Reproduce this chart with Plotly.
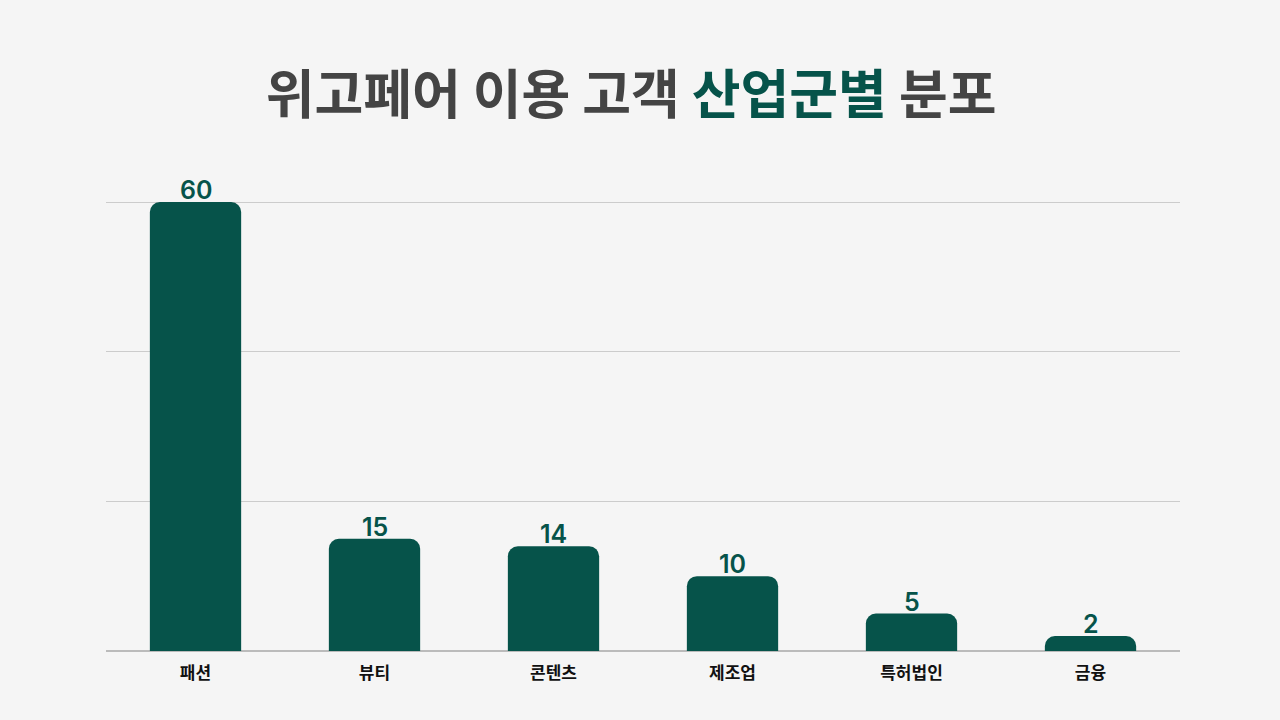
import plotly.graph_objects as go

# ========== DATA ==========
categories = ["패션", "뷰티", "콘텐츠", "제조업", "특허법인", "금융"]
counts = [60, 15, 14, 10, 5, 2]
y_ticks = [0, 20, 40, 60]

green = "#06534A"

fig = go.Figure()
fig.add_trace(go.Bar(
    x=categories, y=counts,
    marker=dict(color=green, line=dict(width=0)),
    hoverinfo="x+y",
))

# value labels sitting right on top of the bars
for cat, val in zip(categories, counts):
    fig.add_annotation(
        x=cat, y=val, text=str(val), showarrow=False,
        yanchor="bottom", yshift=-5,
        font=dict(family="Inter", size=25, color=green, weight=600),
    )

fig.update_layout(
    width=1280, height=720,
    paper_bgcolor="#f5f5f5", plot_bgcolor="#f5f5f5",
    margin=dict(l=106, r=100, t=194, b=69),
    bargap=0.49,
    barcornerradius=10,
    showlegend=False,
    font=dict(family="Noto Sans CJK KR"),
    title=dict(
        text="위고페어 이용 고객 <span style='color:#06534A'>산업군별</span> 분포",
        x=0.493, xanchor="center", y=0.868, yanchor="middle",
        font=dict(family="Noto Sans CJK KR", size=53, color="#444444", weight="bold"),
    ),
)
fig.update_xaxes(
    showgrid=False, showline=False, ticks="", ticklabelstandoff=10,
    tickfont=dict(family="Noto Sans CJK KR", size=17, color="#111111", weight="bold"),
)
fig.update_yaxes(
    range=[0, 61.07], tickvals=y_ticks, showticklabels=False,
    showgrid=True, gridcolor="#cccccc", gridwidth=1,
    zeroline=True, zerolinecolor="#bbbbbb", zerolinewidth=1.5,
)

fig.write_html("out.html", config={"displayModeBar": False},
               post_script="document.body.style.margin='0';")
